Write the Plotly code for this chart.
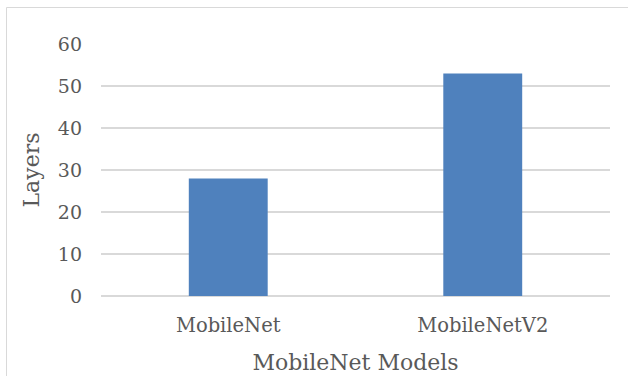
import plotly.graph_objects as go

models = ["MobileNet", "MobileNetV2"]
layers = [28, 53]
y_ticks = [0, 10, 20, 30, 40, 50, 60]

W, H = 628, 376
L, R, T, B = 101, 18, 44, 80
pw, ph = W - L - R, H - T - B

def px_x(x):
    return (x - L) / pw

def px_y(y):
    return 1 - (y - T) / ph

font_family = "DejaVu Serif"
text_color = "#595959"

fig = go.Figure(
    go.Bar(
        x=models,
        y=layers,
        marker=dict(color="#4f81bd", line=dict(width=0)),
        width=0.31,
    )
)

fig.update_layout(
    width=W,
    height=H,
    margin=dict(l=L, r=R, t=T, b=B),
    paper_bgcolor="white",
    plot_bgcolor="white",
    showlegend=False,
    font=dict(family=font_family, color=text_color, size=19),
    xaxis=dict(
        title=dict(text="MobileNet Models", font=dict(size=22), standoff=19),
        automargin=False,
        showgrid=False,
        showline=False,
        ticks="",
        ticklabelstandoff=15,
        tickfont=dict(size=19.5),
    ),
    yaxis=dict(
        title=dict(text="Layers", font=dict(size=22), standoff=12),
        automargin=False,
        range=[0, 60],
        tickvals=y_ticks,
        showgrid=True,
        gridcolor="#d9d9d9",
        gridwidth=1.5,
        zeroline=True,
        zerolinecolor="#d9d9d9",
        zerolinewidth=1.5,
        ticks="",
        ticklabelstandoff=18,
        tickfont=dict(size=19),
    ),
    shapes=[
        dict(
            type="rect",
            xref="paper",
            yref="paper",
            x0=px_x(6.5),
            x1=px_x(W + 10),
            y0=px_y(7.5),
            y1=px_y(H + 10),
            line=dict(color="#d9d9d9", width=1),
            fillcolor="rgba(0,0,0,0)",
            layer="below",
        )
    ],
)

fig.write_html("out.html")
